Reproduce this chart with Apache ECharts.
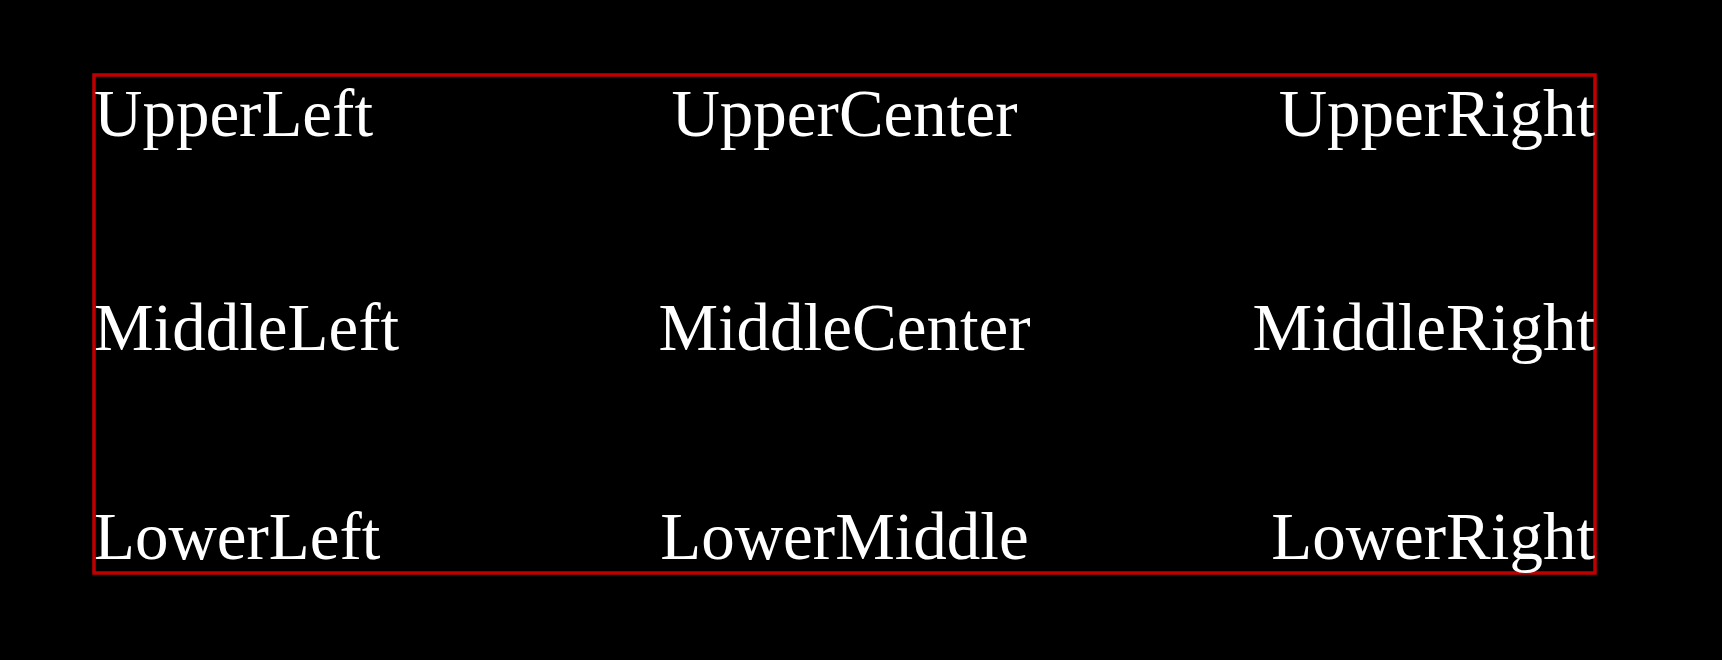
<!DOCTYPE html>
<html>
<head>
<meta charset="utf-8">
<script src="https://cdn.jsdelivr.net/npm/echarts@6/dist/echarts.min.js"></script>
<style>
html, body { margin: 0; padding: 0; background: #000; }
#chart { width: 1722px; height: 660px; }
</style>
</head>
<body>
<div id="chart"></div>
<script>
// label texts and their positions in the box (0 = left/bottom, 1 = right/top)
var labels = ['UpperLeft', 'UpperCenter', 'UpperRight',
              'MiddleLeft', 'MiddleCenter', 'MiddleRight',
              'LowerLeft', 'LowerMiddle', 'LowerRight'];
var xPos = [0, 0.5, 1, 0, 0.5, 1, 0, 0.5, 1];
var yPos = [1, 1, 1, 0.5, 0.5, 0.5, 0, 0, 0];

var hAlign = { 0: 'left', 0.5: 'center', 1: 'right' };
var vAlign = { 1: 'top', 0.5: 'middle', 0: 'bottom' };
var vShift = { 1: 10, 0.5: 8, 0: 2 };

var points = [];
for (var i = 0; i < labels.length; i++) {
    points.push({
        value: [xPos[i], yPos[i]],
        name: labels[i],
        label: {
            align: hAlign[xPos[i]],
            verticalAlign: vAlign[yPos[i]],
            offset: [0, vShift[yPos[i]]]
        }
    });
}

var option = {
    backgroundColor: '#000',
    animation: false,
    grid: {
        show: true,
        left: 94,
        top: 75,
        width: 1501,
        height: 498,
        borderColor: '#c00000',
        borderWidth: 3.5,
        backgroundColor: 'transparent'
    },
    xAxis: {
        type: 'value', min: 0, max: 1,
        show: false
    },
    yAxis: {
        type: 'value', min: 0, max: 1,
        show: false
    },
    series: [{
        type: 'scatter',
        symbolSize: 0,
        clip: false,
        itemStyle: { opacity: 1 },
        data: points,
        label: {
            show: true,
            position: [0, 0],
            formatter: '{b}',
            color: '#ffffff',
            opacity: 1,
            fontFamily: 'Liberation Serif',
            fontSize: 67
        }
    }]
};

var myChart = echarts.init(document.getElementById('chart'));
myChart.setOption(option);
</script>
</body>
</html>
